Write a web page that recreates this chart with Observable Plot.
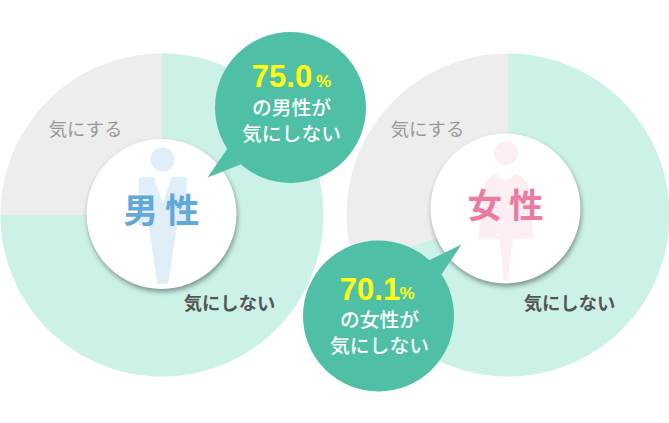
<!DOCTYPE html>
<html><head><meta charset="utf-8">
<script src="https://cdn.jsdelivr.net/npm/d3@7"></script>
<script src="https://cdn.jsdelivr.net/npm/@observablehq/plot@0.6"></script>
<style>html,body{margin:0;padding:0;background:#fff}svg{display:block}</style>
</head><body><div id="chart"></div>
<script>
// Data
const groups = ["男性", "女性"];
const careShare = [25.0, 29.9];
const dontCareShare = [75.0, 70.1];
const careLabel = "気にする";
const dontCareLabel = "気にしない";
const calloutValues = ["75.0", "70.1"];
const calloutLines = ["の男性が", "の女性が"];

// Layout (chart-space units; the x and y scales map these to the page)
const pies = [{cx: 161.5, cy: 214.5, r: 161.5}, {cx: 507.5, cy: 214.5, r: 161.5}];
const hubs = [{x: 161, y: 213.5}, {x: 505, y: 208}];
const bubbles = [{x: 290, y: 107}, {x: 378, y: 315.5}];
const COL = {mint: "#ccf1e7", gray: "#ededed", green: "#4fbfa6", yellow: "#ffff14",
  blue: "#62a9d9", pink: "#eb7ba3", paleBlue: "#e0eef8", palePink: "#fdeef1"};
const JP = "'Noto Sans CJK JP','Noto Sans',sans-serif";
const LAT = "'Liberation Sans',Arial,sans-serif";

// Slices from the shares: clockwise from 12 o'clock
function slices(i) {
  const {cx, cy, r} = pies[i];
  const arcs = d3.pie().sort(null).value(d => d.v)([
    {k: "dont", v: dontCareShare[i]}, {k: "care", v: careShare[i]}]);
  return arcs.flatMap(a => {
    const n = Math.ceil((a.endAngle - a.startAngle) * 60);
    const pts = [{k: a.data.k, x: cx, y: cy}];
    for (let j = 0; j <= n; ++j) {
      const t = a.startAngle + (a.endAngle - a.startAngle) * j / n;
      pts.push({k: a.data.k, x: cx + r * Math.sin(t), y: cy - r * Math.cos(t)});
    }
    return pts;
  });
}
const poly = (pts) => pts.map(([x, y]) => ({x, y}));
const shape = (pts, fill) => Plot.line(poly(pts), {x: "x", y: "y", fill, stroke: "none", curve: "linear-closed"});

const tails = [
  [[207, 177], [227, 148], [240, 164]],
  [[461, 244], [428, 260], [441, 274]]
];
const manBody = [[138.3,176.7],[153.3,176.7],[162.3,203],[171,176.7],[186,176.7],[186,225],[176.7,225],
  [167.7,283.3],[156.7,283.3],[148.3,225],[138.3,225]];
const womanBody = [[496.5,173],[500,178],[505.7,180],[511,178],[515,173],[521,176],[527,183],[533.3,238.3],
  [512.3,238.3],[507.3,280],[503.3,280],[499,238.3],[477.7,238.3],[484,183],[490,176]];

const marks = [];
groups.forEach((g, i) => {
  const s = slices(i);
  marks.push(Plot.line(s.filter(d => d.k === "dont"), {x: "x", y: "y", fill: COL.mint, stroke: "none", curve: "linear-closed"}));
  marks.push(Plot.line(s.filter(d => d.k === "care"), {x: "x", y: "y", fill: COL.gray, stroke: "none", curve: "linear-closed"}));
});
marks.push(Plot.dot(hubs, {x: "x", y: "y", r: 75, fill: "#fff", stroke: "none",
  imageFilter: "drop-shadow(1px 3px 2.5px rgba(0,0,0,0.38))"}));
// pictograms
marks.push(Plot.dot([{x: 162, y: 159}], {x: "x", y: "y", r: 12, fill: COL.paleBlue, stroke: "none"}));
marks.push(shape(manBody, COL.paleBlue));
marks.push(Plot.dot([{x: 505.7, y: 152.7}], {x: "x", y: "y", r: 12, fill: COL.palePink, stroke: "none"}));
marks.push(shape(womanBody, COL.palePink));
// hub labels
marks.push(Plot.text([groups[0]], {x: () => 161, y: () => 211, text: d => d[0] + "\u2009" + d[1], fontFamily: JP, fontWeight: 700, fontSize: 34.5, fill: COL.blue}));
marks.push(Plot.text([groups[1]], {x: () => 505, y: () => 206, text: d => d[0] + "\u2009" + d[1], fontFamily: JP, fontWeight: 700, fontSize: 34.5, fill: COL.pink}));
// slice labels
marks.push(Plot.text([{x: 85, y: 129.5}, {x: 427, y: 129.5}], {x: "x", y: "y", text: () => careLabel, fontFamily: JP, fontSize: 18.4, fill: "#999"}));
marks.push(Plot.text([{x: 229, y: 304}, {x: 569, y: 304}], {x: "x", y: "y", text: () => dontCareLabel, fontFamily: JP, fontWeight: 700, fontSize: 18.3, fill: "#555"}));
// callouts
tails.forEach(t => marks.push(shape(t, COL.green)));
marks.push(Plot.dot(bubbles, {x: "x", y: "y", r: 75.5, fill: COL.green, stroke: "none"}));
const num = [{x: 281.5, y: 77, i: 0}, {x: 369.5, y: 289.5, i: 1}];
marks.push(Plot.text(num, {x: "x", y: "y", text: d => calloutValues[d.i], fontFamily: LAT, fontWeight: 700, fontSize: 31, fill: COL.yellow}));
marks.push(Plot.text([{x: 323, y: 81}, {x: 406.5, y: 293.5}], {x: "x", y: "y", text: () => "%", fontFamily: LAT, fontWeight: 700, fontSize: 17, fill: COL.yellow}));
marks.push(Plot.text([{x: 291, y: 108.5, i: 0}, {x: 379, y: 320.5, i: 1}], {x: "x", y: "y", text: d => calloutLines[d.i], fontFamily: JP, fontWeight: 500, fontSize: 19.8, fill: "#fff"}));
marks.push(Plot.text([{x: 291, y: 134.5}, {x: 379, y: 346.5}], {x: "x", y: "y", text: () => dontCareLabel, fontFamily: JP, fontWeight: 500, fontSize: 19.8, fill: "#fff"}));

document.getElementById("chart").append(Plot.plot({
  width: 669, height: 423, margin: 0,
  x: {axis: null, domain: [0, 669], range: [0, 669]},
  y: {axis: null, domain: [0, 423], range: [0, 423]},
  style: {background: "#fff", overflow: "visible"},
  marks
}));
</script></body></html>
